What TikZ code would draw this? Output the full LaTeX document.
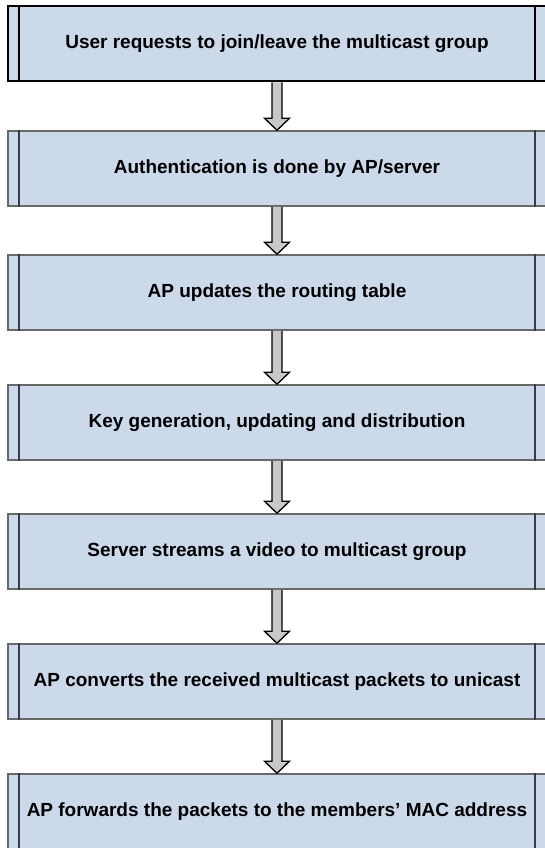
\documentclass[tikz,border=0pt]{standalone}
\usepackage{fontspec}
\setmainfont{Liberation Sans}
\usepackage{tikz}
\usetikzlibrary{calc}
\definecolor{boxfill}{RGB}{204,217,234}
\definecolor{boxline}{RGB}{105,105,105}
\definecolor{sideline}{RGB}{55,60,66}
\definecolor{arrowfill}{RGB}{200,200,200}
\tikzstyle{process}=[rectangle, draw=boxline, fill=boxfill, line width=1.5pt, minimum width=538pt, minimum height=75pt, inner sep=0pt, font=\fontsize{19}{22}\selectfont\bfseries]
\tikzstyle{first process}=[process, draw=black, line width=2pt]
\tikzstyle{side line}=[draw=sideline, line width=1.6pt]
\tikzstyle{first side line}=[draw=black, line width=2pt]
\tikzstyle{flow arrow}=[draw=black, line width=1.3pt, fill=arrowfill, line join=miter]

\begin{document}
\begin{tikzpicture}[x=1pt, y=-1pt]
	\useasboundingbox (0,0) rectangle (544,848);
	% First we draw the steps
	\foreach \pos/\label/\name in {
		{(277,44)/1/{User requests to join/leave the multicast group}}}
	\node[first process] (\label) at \pos {\name};
	
	\foreach \pos/\label/\name in {
		{(277,168.5)/2/{Authentication is done by AP/server}},
		{(277,292.5)/3/{AP updates the routing table}},
		{(277,422.5)/4/{Key generation, updating and distribution}},
		{(277,551.5)/5/{Server streams a video to multicast group}},
		{(277,681.5)/6/{AP converts the received multicast packets to unicast}},
		{(277,811.5)/7/{AP forwards the packets to the members’ MAC address}}}
	\node[process] (\label) at \pos {\name};
	
	% Side bars of the process boxes
	\foreach \label in {1}
	{
		\path[first side line] ([xshift=12pt]\label.north west) -- ([xshift=12pt]\label.south west);
		\path[first side line] ([xshift=-12pt]\label.north east) -- ([xshift=-12pt]\label.south east);
	}
	\foreach \label in {2,...,7}
	{
		\path[side line] ([xshift=12pt]\label.north west) -- ([xshift=12pt]\label.south west);
		\path[side line] ([xshift=-12pt]\label.north east) -- ([xshift=-12pt]\label.south east);
	}
	
	% Connect steps with block arrows
	\foreach \source/ \dest in {
		1/2, 2/3, 3/4, 4/5, 5/6, 6/7}
	\path[flow arrow] ([xshift=-5pt]\source.south) -- ([xshift=-5pt,yshift=12pt]\dest.north)
		-- ([xshift=-12.5pt,yshift=12pt]\dest.north) -- (\dest.north)
		-- ([xshift=12.5pt,yshift=12pt]\dest.north) -- ([xshift=5pt,yshift=12pt]\dest.north)
		-- ([xshift=5pt]\source.south);
\end{tikzpicture}
\end{document}
